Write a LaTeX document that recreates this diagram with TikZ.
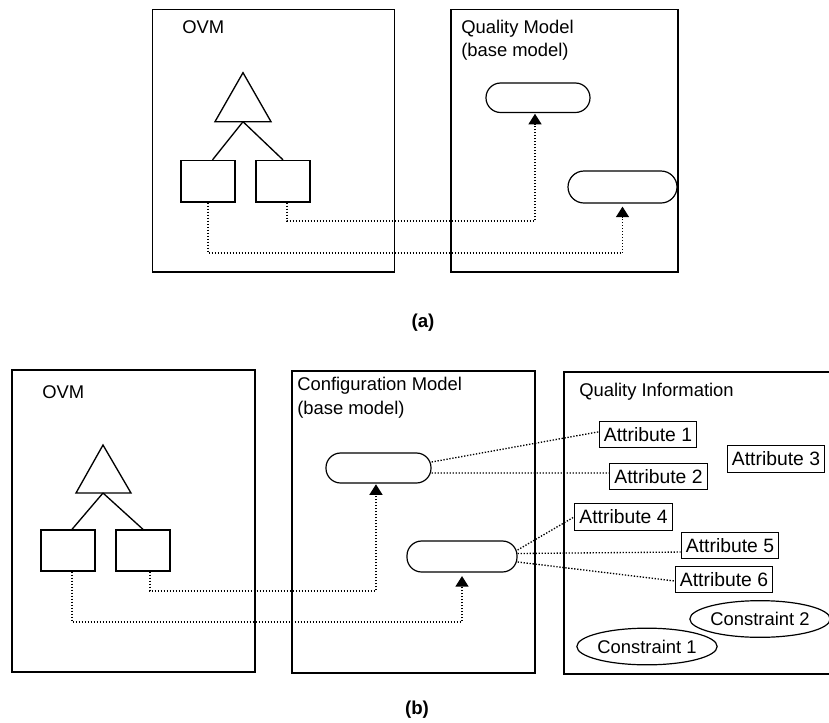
\documentclass[tikz,border=0pt]{standalone}
\usepackage{fontspec}
\setmainfont{Liberation Sans}
\usetikzlibrary{fit,shapes.geometric,arrows.meta}

\begin{document}
\begin{tikzpicture}[x=0.75pt,y=-0.75pt,
  frame/.style={draw, line width=1pt, inner sep=0pt},
  featbox/.style={draw, line width=1pt, inner sep=0pt},
  pill/.style={draw, line width=0.9pt, inner sep=0pt, rounded corners=11pt},
  lbl/.style={font=\fontsize{13.8}{16}\selectfont, inner sep=0pt, anchor=base west},
  attr/.style={draw, line width=0.9pt, font=\fontsize{14.5}{16}\selectfont,
    inner xsep=3.6pt, inner ysep=0pt, minimum height=20pt},
  cons/.style={draw, ellipse, line width=0.9pt, font=\fontsize{13.8}{16}\selectfont,
    minimum width=98pt, minimum height=27.5pt, inner sep=0pt},
  link/.style={line width=1pt, dash pattern=on 1pt off 1.25pt},
  arr/.style={link, -{Triangle[length=7.9pt,width=9.75pt]}},
  tree/.style={line width=1pt},
  caption/.style={font=\bfseries\fontsize{14}{16}\selectfont, inner sep=0pt}
]
\useasboundingbox (0,0) rectangle (829,722);

% ---------------- (a) ----------------
\node[frame, fit={(152.7,9.5) (394.7,272)}] (ovmA) {};
\node[frame, fit={(451,9.5) (678,272)}] (qmA) {};
\node[lbl] (ovmAlbl) at (182,33) {OVM};
\node[lbl] (qmAlbl1) at (461,33) {Quality Model};
\node[lbl] (qmAlbl2) at (461,56.5) {(base model)};

% feature tree
\coordinate (taTop) at (243,72.7);
\coordinate (taL) at (215,121.7);
\coordinate (taR) at (271,121.7);
\coordinate (taBase) at (243,121.7);
\draw[tree] (taTop) -- (taR) -- (taL) -- cycle;
\node[featbox, fit={(181,160.5) (235,202)}] (boxLA) {};
\node[featbox, fit={(256,160.5) (310,202)}] (boxRA) {};
\draw[tree] (taBase) -- ([xshift=3.4pt]boxLA.north);
\draw[tree] (taBase) -- (boxRA.north);

% quality model elements
\node[pill, fit={(486,83) (590,112.5)}] (rr1A) {};
\node[pill, rounded corners=12pt, fit={(568,171) (677,203)}] (rr2A) {};

% mappings
\coordinate (tA1) at (0,221);
\coordinate (tA2) at (0,253);
\coordinate (eA1) at ([xshift=-2.25pt,yshift=-0.5pt]rr1A.south);
\coordinate (eA2) at ([yshift=-2.25pt]rr2A.south);
\coordinate (sA1) at ([xshift=3pt]boxRA.south);
\draw[arr] (sA1) |- (eA1 |- tA1) -- (eA1);
\draw[arr] (boxLA.south) |- (eA2 |- tA2) -- (eA2);

\node[caption] (capA) at (423,323) {(a)};

% ---------------- (b) ----------------
\node[frame, fit={(12,370) (255,672)}] (ovmB) {};
\node[frame, fit={(292,371) (535,673)}] (cfgB) {};
\node[frame, fit={(564,372) (840,674)}] (qiB) {};
\node[lbl] (ovmBlbl) at (42,398) {OVM};
\node[lbl] (cfgBlbl1) at (297,390) {Configuration Model};
\node[lbl] (cfgBlbl2) at (297,414) {(base model)};
\node[lbl] (qiBlbl) at (579,396.5) {Quality Information};

% feature tree
\coordinate (tbTop) at (103,445);
\coordinate (tbL) at (76,493);
\coordinate (tbR) at (131,493);
\coordinate (tbBase) at (103,493);
\draw[tree] (tbTop) -- (tbR) -- (tbL) -- cycle;
\node[featbox, fit={(41,530) (95,571)}] (boxLB) {};
\node[featbox, fit={(116,530) (170,571)}] (boxRB) {};
\draw[tree] (tbBase) -- ([xshift=3pt]boxLB.north);
\draw[tree] (tbBase) -- (boxRB.north);

% configuration model elements
\node[pill, fit={(326,453) (431,483)}] (rr1B) {};
\node[pill, fit={(407,541) (517,572)}] (rr2B) {};

% mappings
\coordinate (tB1) at (0,591);
\coordinate (tB2) at (0,622);
\coordinate (eB1) at ([xshift=-1.9pt,yshift=-0.5pt]rr1B.south);
\coordinate (eB2) at ([yshift=-2.6pt]rr2B.south);
\coordinate (sB1) at ([xshift=5.25pt]boxRB.south);
\coordinate (sB2) at ([xshift=3pt]boxLB.south);
\draw[arr] (sB1) |- (eB1 |- tB1) -- (eB1);
\draw[arr] (sB2) |- (eB2 |- tB2) -- (eB2);

% quality information
\node[attr] (a1) at (648,434.5) {Attribute 1};
\node[attr] (a2) at (658.5,476.5) {Attribute 2};
\node[attr] (a3) at (776,459) {Attribute 3};
\node[attr] (a4) at (623.5,517) {Attribute 4};
\node[attr] (a5) at (730,545.5) {Attribute 5};
\node[attr] (a6) at (724,579.5) {Attribute 6};
\node[cons] (c2) at (760,619) {Constraint 2};
\node[cons] (c1) at (647,646.5) {Constraint 1};

\draw[link] ([yshift=4.5pt]rr1B.east) -- ([yshift=2pt]a1.west);
\draw[link] ([yshift=-3.75pt]rr1B.east) -- ([yshift=2.6pt]a2.west);
\draw[link] ([yshift=4.9pt]rr2B.east) -- (a4.west);
\draw[link] ([yshift=2.25pt]rr2B.east) -- ([yshift=-4.9pt]a5.west);
\draw[link] ([yshift=-4.1pt]rr2B.east) -- ([yshift=-1.1pt]a6.west);

\node[caption] (capB) at (417,710) {(b)};
\end{tikzpicture}
\end{document}
